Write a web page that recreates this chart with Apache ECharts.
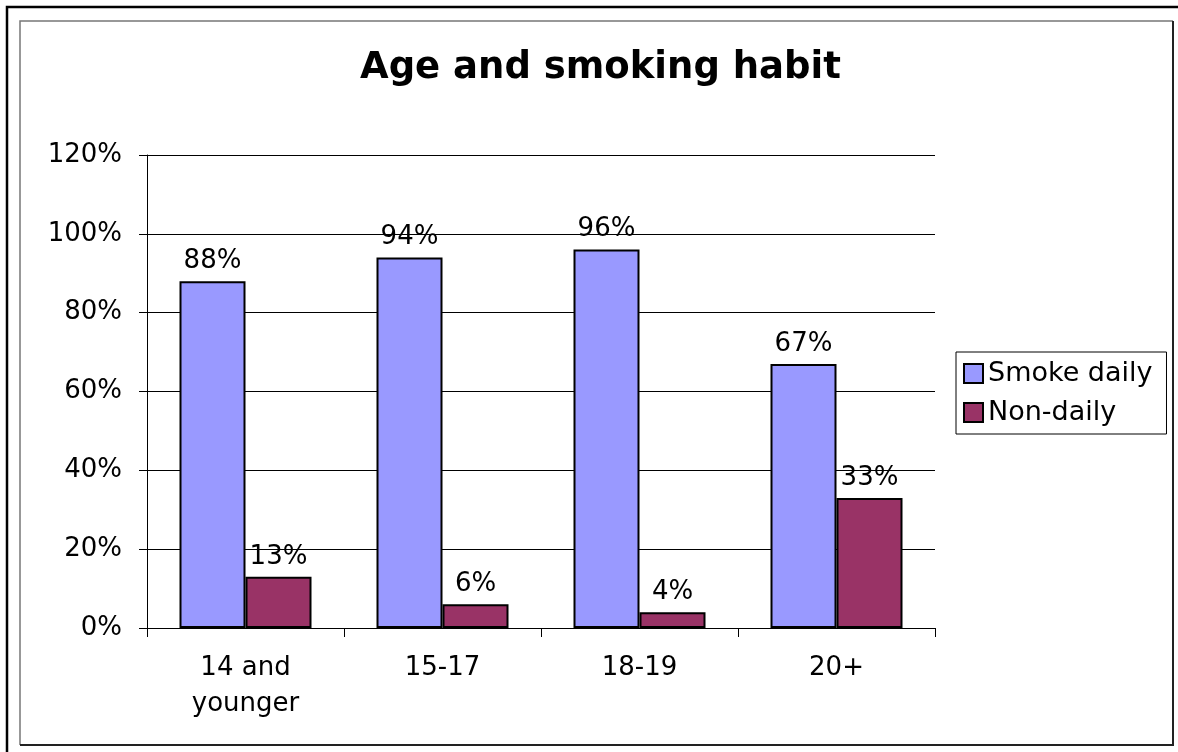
<!DOCTYPE html>
<html><head><meta charset="utf-8">
<script src="https://cdn.jsdelivr.net/npm/echarts@6/dist/echarts.min.js"></script>
<style>html,body{margin:0;padding:0;background:#fff}#c{width:1178px;height:752px}</style>
</head><body><div id="c"></div>
<script>
const categories = ["14 and\nyounger", "15-17", "18-19", "20+"];
const smokeDaily = [88, 94, 96, 67];
const nonDaily = [13, 6, 4, 33];
const seriesNames = ["Smoke daily", "Non-daily"];
const titleText = "Age and smoking habit";

const chart = echarts.init(document.getElementById('c'));
const font = 'DejaVu Sans, Verdana, sans-serif';
const lbl = {show: true, position: 'top', formatter: '{c}%', color: '#000', fontFamily: font, fontSize: 26, distance: 7};
chart.setOption({
  animation: false,
  backgroundColor: '#fff',
  title: {text: titleText, left: 355, top: 45, textStyle: {fontFamily: font, fontSize: 37, fontWeight: 'bold', color: '#000'}},
  graphic: [
    {type: 'polyline', shape: {points: [[7, 760], [7, 7], [1190, 7]]}, style: {fill: 'none', stroke: '#000', lineWidth: 2.5}},
    {type: 'polyline', shape: {points: [[20, 745], [20, 21], [1173, 21]]}, style: {fill: 'none', stroke: '#777', lineWidth: 1.5}},
    {type: 'polyline', shape: {points: [[1173, 21], [1173, 745], [20, 745]]}, style: {fill: 'none', stroke: '#222', lineWidth: 2}}
  ],
  legend: {
    orient: 'vertical', left: 956, top: 352, width: 210,
    itemWidth: 19, itemHeight: 19, itemGap: 12, icon: 'rect',
    borderColor: '#000', borderWidth: 1, padding: [8, 14, 8, 7],
    textStyle: {fontFamily: font, fontSize: 27, color: '#000'},
    data: seriesNames
  },
  grid: {left: 147, right: 243, top: 155, bottom: 124, containLabel: false},
  xAxis: {
    type: 'category', data: categories,
    axisLine: {lineStyle: {color: '#000', width: 1}},
    axisTick: {show: true, length: 9, lineStyle: {color: '#000'}},
    axisLabel: {fontFamily: font, fontSize: 26, color: '#000', margin: 22, lineHeight: 36, interval: 0}
  },
  yAxis: {
    type: 'value', min: 0, max: 120, interval: 20,
    axisLine: {show: true, lineStyle: {color: '#000', width: 1}},
    axisTick: {show: true, length: 8, lineStyle: {color: '#000'}},
    splitLine: {lineStyle: {color: '#000', width: 1}},
    axisLabel: {formatter: '{value}%', fontFamily: font, fontSize: 26, color: '#000', margin: 25}
  },
  series: [
    {name: seriesNames[0], type: 'bar', data: smokeDaily, barWidth: 66, barGap: '0%',
     itemStyle: {color: '#9999FF', borderColor: '#000', borderWidth: 2}, label: lbl},
    {name: seriesNames[1], type: 'bar', data: nonDaily, barWidth: 66, barGap: '0%',
     itemStyle: {color: '#993366', borderColor: '#000', borderWidth: 2}, label: lbl}
  ]
});
</script></body></html>
